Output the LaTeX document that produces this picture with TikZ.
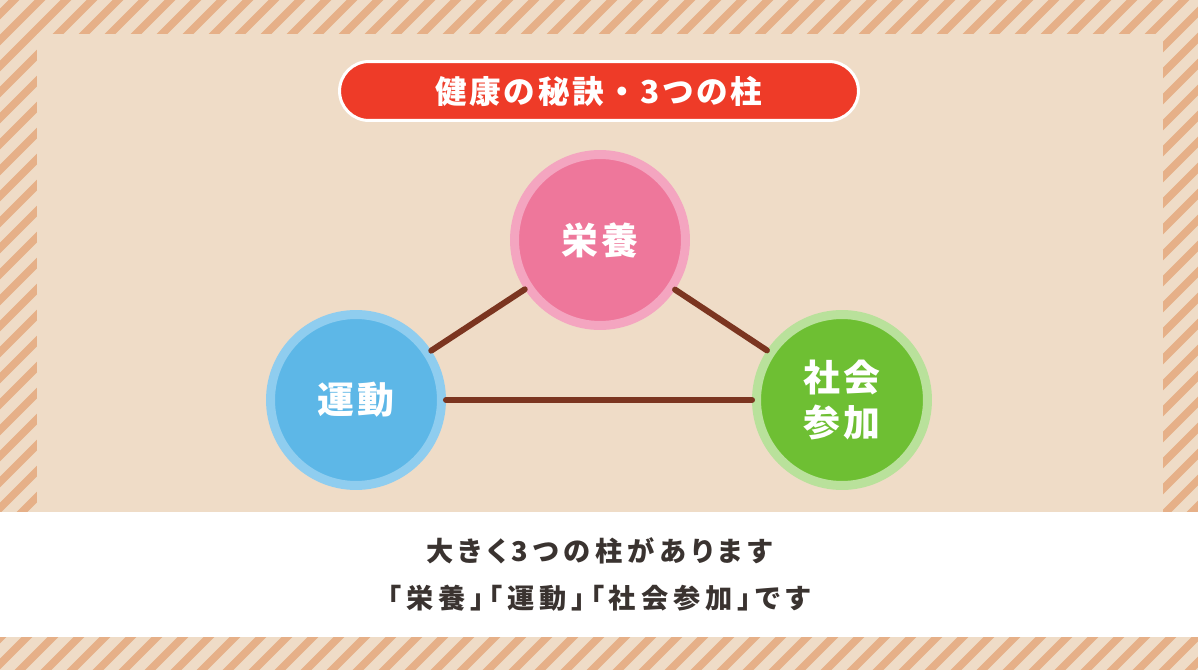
\documentclass[tikz,border=0pt]{standalone}
\usepackage{fontspec}
\newfontfamily\jpfont{Noto Sans CJK JP}[LetterSpace=8]
\newfontfamily\jpwide{Noto Sans CJK JP}[LetterSpace=18,RawFeature=+palt]
\definecolor{bgbeige}{HTML}{EFDCC7}
\definecolor{stripeorange}{HTML}{E6B088}
\definecolor{titlered}{HTML}{EE3B28}
\definecolor{linkbrown}{HTML}{7B3520}
\definecolor{pinkring}{HTML}{F4A5C0}
\definecolor{pinkfill}{HTML}{EE779B}
\definecolor{bluering}{HTML}{8FCDEF}
\definecolor{bluefill}{HTML}{5DB7E7}
\definecolor{greenring}{HTML}{B9E19B}
\definecolor{greenfill}{HTML}{6EBF33}
\definecolor{textdark}{HTML}{3A3330}
\tikzset{
  pillar/.style={circle,line width=0.18cm,minimum size=3.42cm,inner sep=0pt,
    text=white,align=center,font=\jpfont\bfseries\fontsize{21}{25.5}\selectfont},
  link/.style={draw=linkbrown,line width=0.12cm},
  titlepill/.style={rectangle,rounded corners=0.59cm,fill=titlered,draw=white,
    line width=0.06cm,minimum width=10.38cm,minimum height=1.18cm,
    text=white,font=\jpfont\bfseries\fontsize{18}{20}\selectfont},
  caption/.style={text=textdark,font=\jpwide\bfseries\fontsize{15.5}{16}\selectfont}
}
\begin{document}
\begin{tikzpicture}[x=0.02cm,y=-0.02cm,line cap=round,line join=round]
  \useasboundingbox (0,0) rectangle (1198,670);
  % striped frame
  \begin{scope}
    \clip (0,0) rectangle (1198,670);
    \fill[bgbeige] (0,0) rectangle (1198,670);
    \foreach \i in {-28,...,48} {\draw[stripeorange,line width=0.155cm,line cap=butt] (\i*26,690) -- ++(710,-710);}
  \end{scope}
  \fill[bgbeige] (37,34) rectangle (1163,512);
  \fill[white] (0,512) rectangle (1198,637);
  % the three pillars
  \node[pillar,draw=pinkring,fill=pinkfill] (nutrition) at (600,240) {栄養};
  \node[pillar,draw=bluering,fill=bluefill] (exercise) at (356,400) {運動};
  \node[pillar,draw=greenring,fill=greenfill] (social) at (842,400) {社会\\参加};
  \draw[link] (nutrition) -- (exercise);
  \draw[link] (nutrition) -- (social);
  \draw[link] (exercise) -- (social);
  \node[titlepill] (title) at (599,91) {健康の秘訣・3つの柱};
  \node[caption] (lineA) at (599,551) {大きく3つの柱があります};
  \node[caption] (lineB) at (599,598) {「栄養」「運動」「社会参加」です};
\end{tikzpicture}
\end{document}
